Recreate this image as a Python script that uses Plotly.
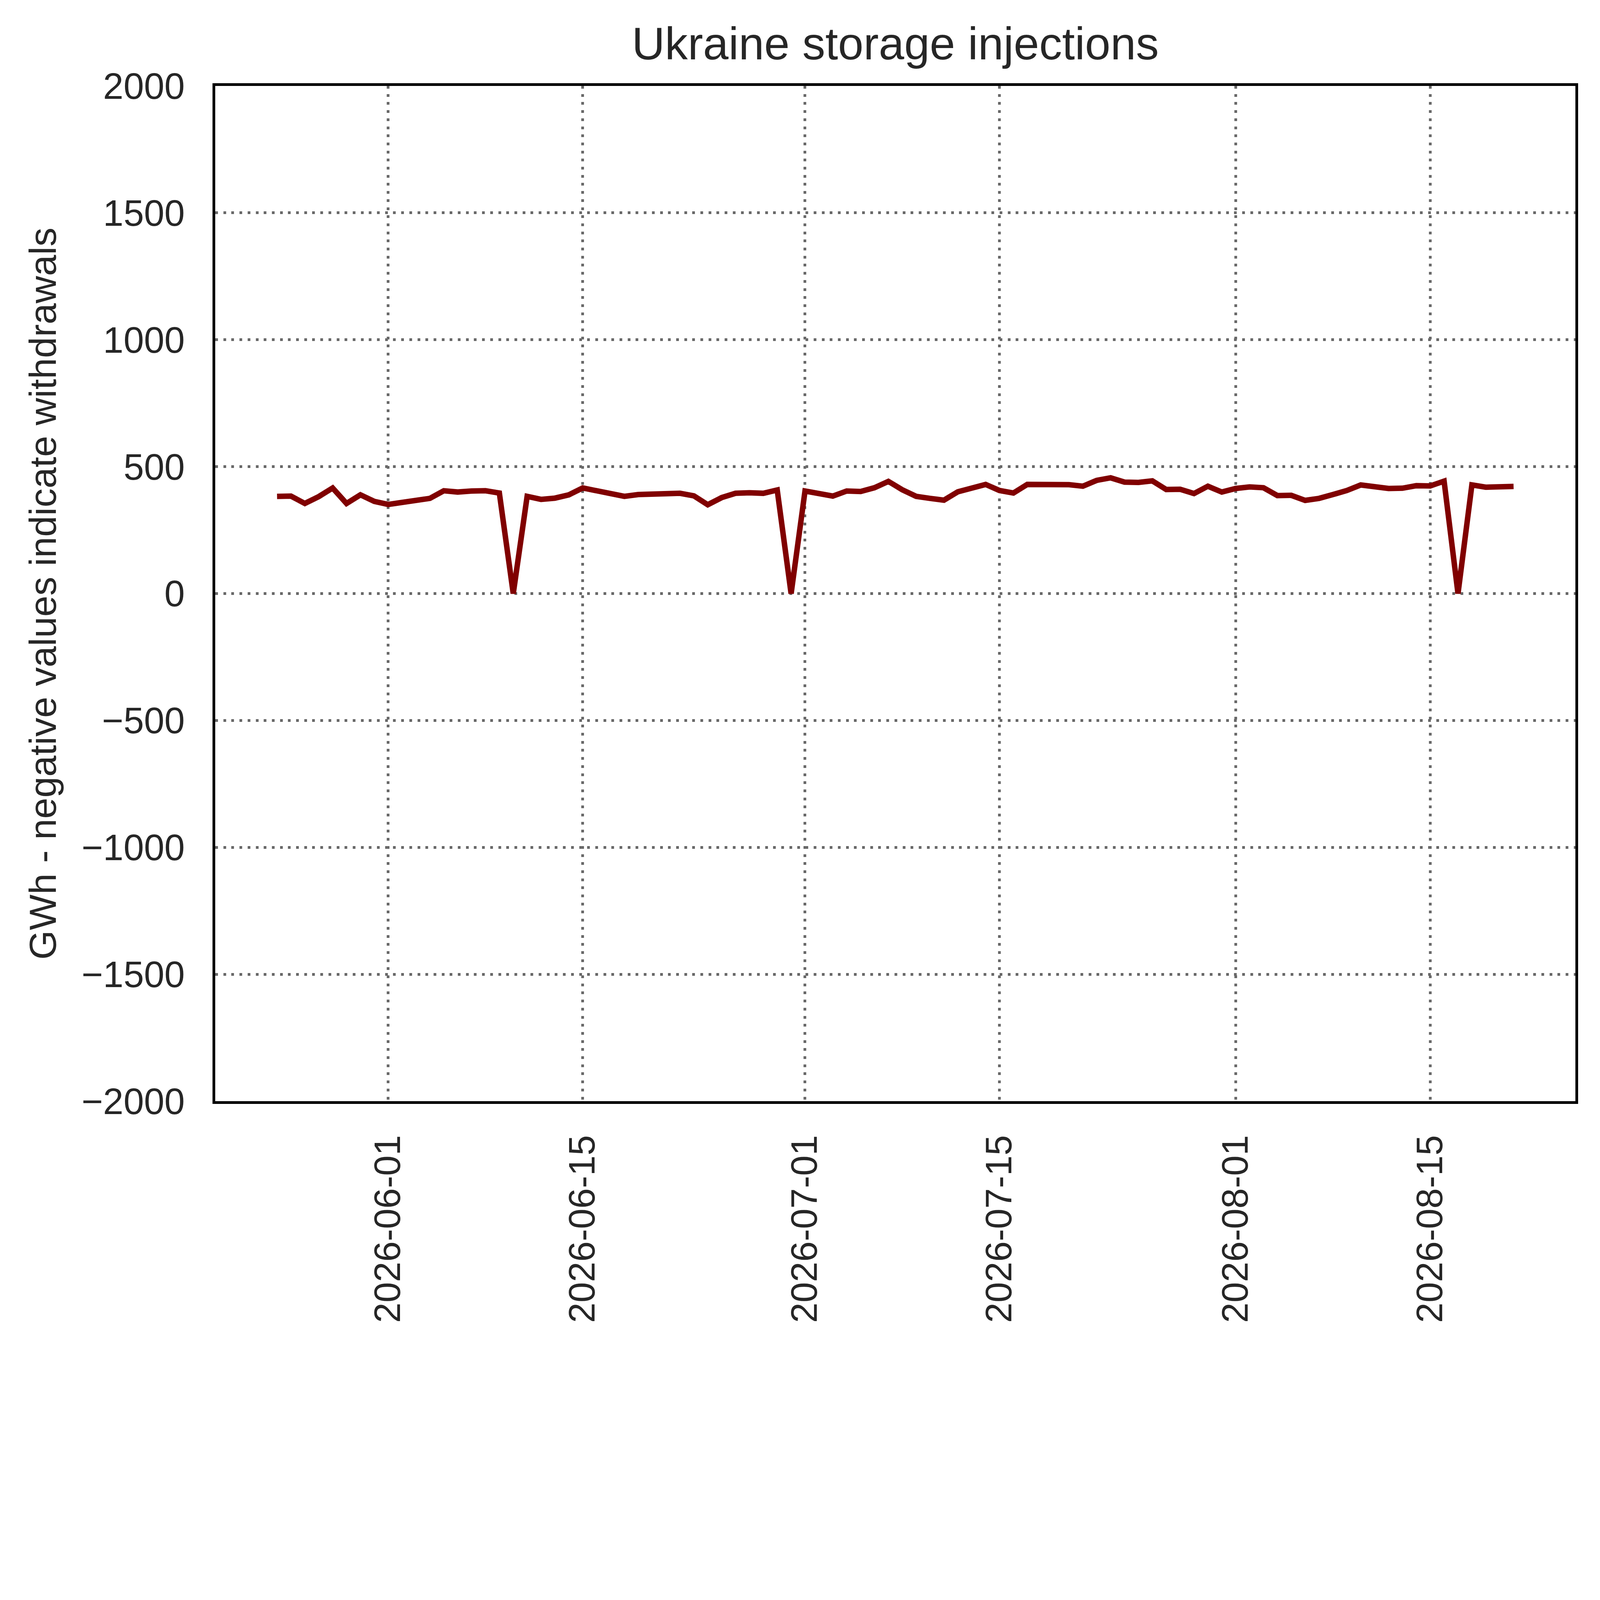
import pandas as pd
import plotly.graph_objects as go

# daily net storage injections, GWh (negative = withdrawal)
start_date = "2026-05-24"
injections = [
    383, 384, 355, 382, 416, 355, 389, 363,                 # May 24-31
    351, 359, 369, 375, 405, 400, 404, 405, 396, 0,         # Jun 1-10
    383, 371, 376, 389, 416, 406, 392, 383, 390, 393,       # Jun 11-20
    395, 395, 385, 350, 378, 395, 397, 395, 408, 0,         # Jun 21-30
    404, 395, 384, 404, 402, 417, 442, 409, 383, 375,       # Jul 1-10
    368, 401, 416, 430, 406, 396, 430, 430, 432, 429,       # Jul 11-20
    423, 446, 456, 439, 438, 444, 410, 411, 394, 423, 400,  # Jul 21-31
    414, 420, 417, 386, 387, 367, 375, 390, 406, 428,       # Aug 1-10
    421, 414, 415, 425, 424, 443, 0, 428, 419, 422, 422,    # Aug 11-21
]
dates = pd.date_range(start_date, periods=len(injections), freq="D")

x_ticks = ["2026-06-01", "2026-06-15", "2026-07-01",
           "2026-07-15", "2026-08-01", "2026-08-15"]
y_ticks = [-2000, -1500, -1000, -500, 0, 500, 1000, 1500, 2000]

# the browser viewport tops out at 4096 px, so scale the 5833x4905 layout down
S = 4096 / 5833
W, H = 4096, round(4905 * S)
L, R, T, B = round(773 * S), round(101 * S), round(302 * S), round(902 * S)
FONT = "Liberation Sans, Arial, sans-serif"
TXT = "#262626"
GRID = "#696969"
grid_dash = "{:.1f}px,{:.1f}px".format(10 * S, 19.5 * S)

# matplotlib-like 5% margins on the date axis
pad = (dates[-1] - dates[0]) * 0.05
x_range = [dates[0] - pad, dates[-1] + pad]

fig = go.Figure()
fig.add_trace(go.Scatter(
    x=dates, y=injections, mode="lines",
    line=dict(color="#800000", width=20 * S),
    showlegend=False,
))

fig.update_layout(
    width=W, height=H,
    margin=dict(l=L, r=R, t=T, b=B, autoexpand=False),
    paper_bgcolor="white", plot_bgcolor="white",
    font=dict(family=FONT, color=TXT, size=134 * S),
    title=dict(
        text="Ukraine storage injections",
        font=dict(size=167 * S, color=TXT, family=FONT),
        x=0.5, xref="paper", xanchor="center",
        y=0.9583, yref="container", yanchor="bottom",
    ),
    annotations=[dict(
        text="GWh - negative values indicate withdrawals",
        xref="paper", yref="paper", x=-0.1269, y=0.5,
        xanchor="center", yanchor="middle", textangle=-90,
        showarrow=False, font=dict(size=138 * S, color=TXT, family=FONT),
    )],
)

fig.update_xaxes(
    type="date", range=x_range,
    tickvals=x_ticks, ticktext=x_ticks, tickangle=-90,
    ticks="", ticklabelstandoff=round(60 * S),
    showgrid=True, gridcolor=GRID, gridwidth=10 * S, griddash=grid_dash,
    showline=True, linecolor="black", linewidth=10 * S, mirror=True,
    zeroline=False, automargin=False,
    tickfont=dict(size=134 * S, color=TXT, family=FONT),
)
fig.update_yaxes(
    range=[-2000, 2000], tickvals=y_ticks,
    ticks="", ticklabelstandoff=52,
    showgrid=True, gridcolor=GRID, gridwidth=10 * S, griddash=grid_dash,
    showline=True, linecolor="black", linewidth=10 * S, mirror=True,
    zeroline=False, automargin=False,
    tickfont=dict(size=134 * S, color=TXT, family=FONT),
)

fig.write_html("out.html")
